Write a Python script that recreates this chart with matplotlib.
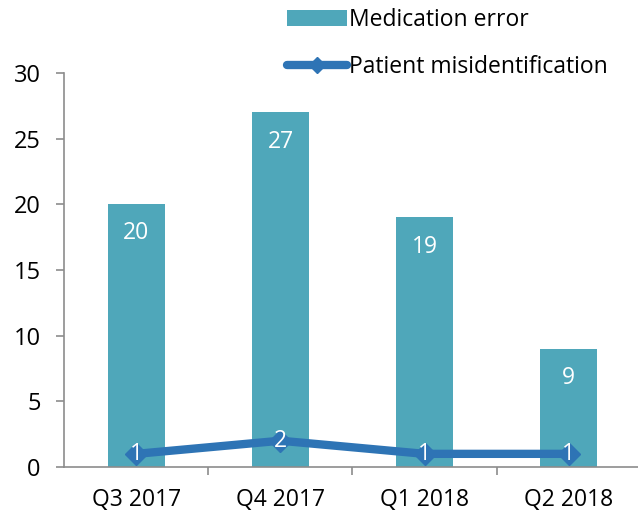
import numpy as np
import matplotlib.pyplot as plt
from matplotlib.lines import Line2D

plt.rcParams['font.family'] = ['Open Sans', 'DejaVu Sans']

quarters = ['Q3 2017', 'Q4 2017', 'Q1 2018', 'Q2 2018']
medication_error = [20, 27, 19, 9]
patient_misid = [1, 2, 1, 1]

bar_color = '#4FA7BA'
line_color = '#2E74B5'
axis_color = '#8C8C8C'

fig = plt.figure(figsize=(6.38, 5.13), dpi=100)
ax = fig.add_axes([0.101, 0.0897, 0.903, 0.768])

x = np.arange(len(quarters))
bars = ax.bar(x, medication_error, width=0.4, color=bar_color,
              label='Medication error', zorder=2)
ax.plot(x, patient_misid, color=line_color, linewidth=6, marker='D',
        markersize=11, zorder=3)

# white data labels inside bars and on the line points
for xi, v in zip(x, medication_error):
    ax.annotate(str(v), (xi, v), xytext=(0, -21), textcoords='offset points',
                ha='center', va='center', color='white', fontsize=16.5)
for xi, v in zip(x, patient_misid):
    ax.text(xi, v, str(v), ha='center', va='center', color='white',
            fontsize=16.5, zorder=4)

ax.set_xlim(-0.5, len(quarters) - 0.5)
ax.set_ylim(0, 30)
ax.set_yticks(range(0, 31, 5))
ax.set_xticks(x)
ax.set_xticklabels(quarters)
ax.set_xticks(np.arange(0.5, len(quarters) - 1, 1), minor=True)
ax.tick_params(axis='x', which='major', length=0, labelsize=16.5, pad=15)
ax.tick_params(axis='x', which='minor', length=6, color=axis_color,
               width=1.2, direction='out')
ax.tick_params(axis='y', length=6, color=axis_color, width=1.2,
               labelsize=17, pad=11)

for s in ['top', 'right']:
    ax.spines[s].set_visible(False)
for s in ['left', 'bottom']:
    ax.spines[s].set_color(axis_color)
    ax.spines[s].set_linewidth(1.2)

line_handle = Line2D([], [], color=line_color, linewidth=6, marker='D',
                     markersize=8, solid_capstyle='round')
fig.legend([bars, line_handle], ['Medication error', 'Patient misidentification'],
           loc='upper left', bbox_to_anchor=(287 / 638, 1 - 8 / 513),
           bbox_transform=fig.transFigure, frameon=False, fontsize=16.5,
           handlelength=2.6, handletextpad=0.1, labelspacing=1.0,
           borderaxespad=0, borderpad=0)

fig.savefig('out.png', dpi=100)
